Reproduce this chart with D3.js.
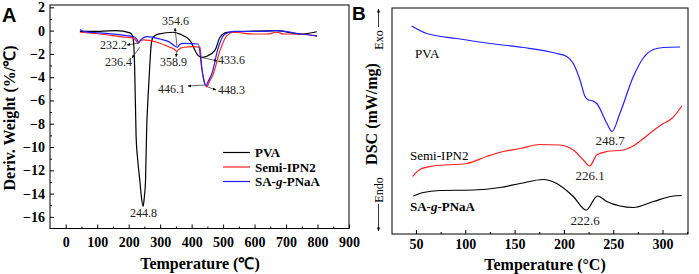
<!DOCTYPE html>
<html>
<head>
<meta charset="utf-8">
<script src="https://cdn.jsdelivr.net/npm/d3@7"></script>
<style>
  body { margin: 0; background: #fff; }
  svg text { font-family: "Liberation Serif", "Times New Roman", serif; }
</style>
</head>
<body>
<div id="chart"></div>
<script>
// ---- Panel A: DTG (derivative weight), temperature in °C ----
const tgaPVA = [
  [45, -0.06], [108, -0.06], [161, 0], [204, -0.2], [212, -0.45], [216, -1.2], [219, -3.2],
  [223.5, -9], [229, -11.2], [235.5, -12.9], [240, -14.2], [245.8, -15.1], [250, -14.2],
  [253.5, -12.9], [257, -8.6], [262, -5.5], [267, -3.0], [272, -1.1], [277.5, -0.57],
  [294, -0.3], [342, -0.14], [363, -0.3], [395, -0.86], [421, -2.15], [433.6, -2.3],
  [448, -2.2], [474, -1.7], [490, -0.57], [512, -0.15], [586, -0.06], [671, 0],
  [745, -0.3], [798, -0.1]
];
const tgaSemi = [
  [45, -0.14], [108, -0.29], [193, -0.57], [214, -0.62], [223, -0.85], [230, -1.09],
  [237, -0.85], [246, -0.8], [289, -1.0], [331, -1.43], [345, -1.6], [352, -1.77],
  [362, -1.55], [374, -1.43], [405, -1.37], [427, -1.43], [432, -3.15], [440, -4.3],
  [448.3, -4.85], [456, -4.4], [469, -3.7], [490, -1.72], [512, -0.43], [533, -0.14],
  [597, -0.29], [640, -0.29], [671, -0.14], [692, -0.29], [745, -0.29], [798, -0.49]
];
const tgaSA = [
  [45, 0.09], [55, -0.06], [108, -0.2], [193, -0.43], [220, -0.57], [227, -0.8],
  [232.2, -1.0], [240, -0.75], [257, -0.52], [299, -0.72], [331, -1.0], [345, -1.3],
  [354.6, -1.43], [362, -1.2], [374, -1.09], [421, -1.15], [432, -3.15], [438, -4.2],
  [446.1, -4.75], [452, -4.4], [464, -3.72], [485, -1.43], [506, -0.29], [533, -0.06],
  [640, -0.06], [671, 0], [745, -0.29], [798, -0.43]
];
const aXTicks = [0, 100, 200, 300, 400, 500, 600, 700, 800, 900];
const aYTicks = [-16, -14, -12, -10, -8, -6, -4, -2, 0, 2];
const aSeries = ["PVA", "Semi-IPN2", "SA-g-PNaA"];
const aColors = ["#000000", "#ff1f1f", "#1f1fff"];

// ---- Panel B: DSC (arbitrary heat-flow units), temperature in °C ----
const dscPVA = [
  [45.6, 4.16], [60.9, 4.01], [91.3, 3.91], [125, 3.81], [158.8, 3.73], [192.7, 3.61],
  [202.8, 3.55], [209.5, 3.41], [216.3, 3.08], [221.4, 2.75], [224.7, 2.68], [228, 2.67],
  [233.3, 2.61], [243.4, 2.22], [248.7, 2.05], [256.9, 2.42], [270.4, 3.15], [280.5, 3.52],
  [290.7, 3.69], [300.8, 3.73], [317.7, 3.74]
];
const dscSemi = [
  [46.6, 1.15], [54, 1.29], [67.5, 1.36], [101.4, 1.41], [121.7, 1.55], [138.5, 1.65],
  [155.5, 1.71], [175.8, 1.79], [196, 1.78], [209.5, 1.68], [219.7, 1.48], [226.1, 1.36],
  [233.3, 1.58], [243.4, 1.65], [260.2, 1.68], [270.4, 1.76], [280, 1.9], [290, 2.06],
  [300, 2.2], [310, 2.32], [319.5, 2.56]
];
const dscSA = [
  [47.3, 0.76], [57.4, 0.83], [74.3, 0.87], [108.1, 0.88], [135.2, 0.93], [155.5, 1.01],
  [179.1, 1.09], [192.7, 1.01], [209.5, 0.75], [222.6, 0.48], [234, 0.76], [243.4, 0.65],
  [256.9, 0.56], [270.4, 0.53], [290.7, 0.65], [311, 0.76], [319.5, 0.77]
];
const bXTicks = [50, 100, 150, 200, 250, 300];

const W = 699, H = 274;
const font = `"Liberation Serif", "Times New Roman", serif`;

const svg = d3.select("#chart").append("svg")
  .attr("width", W).attr("height", H);

// arrowhead marker for peak labels
svg.append("defs").append("marker")
  .attr("id", "arr")
  .attr("viewBox", "0 0 10 10")
  .attr("refX", 9).attr("refY", 5)
  .attr("markerWidth", 5).attr("markerHeight", 5)
  .attr("orient", "auto")
  .append("path").attr("d", "M0,1 L10,5 L0,9 Z").attr("fill", "#000");

// ================= Panel A =================
const xA = d3.scaleLinear().domain([-50, 900]).range([50, 349]);
const yA = d3.scaleLinear().domain([-17, 2.2]).range([228.5, 5]);

const gA = svg.append("g");

gA.append("rect")
  .attr("x", xA.range()[0]).attr("y", yA.range()[1])
  .attr("width", xA.range()[1] - xA.range()[0])
  .attr("height", yA.range()[0] - yA.range()[1])
  .attr("fill", "none").attr("stroke", "#000").attr("stroke-width", 1);

// bottom axis, ticks pointing inside
const axA = gA.append("g")
  .attr("transform", `translate(0,${yA.range()[0]})`)
  .call(d3.axisBottom(xA).tickValues(aXTicks).tickSize(-4).tickPadding(7));
axA.select(".domain").remove();
axA.selectAll("text").attr("font-size", 14).attr("font-weight", "bold")
  .attr("font-family", font).attr("dy", "0.8em");
gA.append("g")
  .attr("transform", `translate(0,${yA.range()[0]})`)
  .call(d3.axisBottom(xA).tickValues(d3.range(50, 900, 100)).tickSize(-2).tickFormat(""))
  .select(".domain").remove();

const ayA = gA.append("g")
  .attr("transform", `translate(${xA.range()[0]},0)`)
  .call(d3.axisLeft(yA).tickValues(aYTicks).tickSize(-4).tickPadding(5));
ayA.select(".domain").remove();
ayA.selectAll("text").attr("font-size", 14).attr("font-weight", "bold").attr("font-family", font);
gA.append("g")
  .attr("transform", `translate(${xA.range()[0]},0)`)
  .call(d3.axisLeft(yA).tickValues(d3.range(-15, 2, 2)).tickSize(-2).tickFormat(""))
  .select(".domain").remove();

const lineA = d3.line().x(d => xA(d[0])).y(d => yA(d[1])).curve(d3.curveMonotoneX);
[tgaPVA, tgaSemi, tgaSA].forEach((s, i) => {
  gA.append("path").datum(s)
    .attr("fill", "none").attr("stroke", aColors[i]).attr("stroke-width", 1.2)
    .attr("d", lineA);
});

// peak labels with arrows (text position, arrow from curve point to label)
const aNotes = [
  { t: "244.8", x: 143.5, y: 217, anchor: "middle" },
  { t: "232.2", x: 100, y: 49, anchor: "start", a: [[139, 43], [127, 45]] },
  { t: "236.4", x: 105, y: 66, anchor: "start", a: [[140, 47], [132, 58]] },
  { t: "354.6", x: 162, y: 25, anchor: "start", a: [[177, 46], [175, 28]] },
  { t: "358.9", x: 160, y: 66, anchor: "start", a: [[177, 51], [176, 57]] },
  { t: "433.6", x: 218, y: 64, anchor: "start", a: [[200, 57], [217, 61]] },
  { t: "446.1", x: 158, y: 93, anchor: "start", a: [[205, 85], [188, 86]] },
  { t: "448.3", x: 218, y: 94, anchor: "start", a: [[208, 87], [216, 90]] }
];
aNotes.forEach(n => {
  gA.append("text").attr("x", n.x).attr("y", n.y).attr("text-anchor", n.anchor)
    .attr("font-size", 12).attr("fill", "#222").text(n.t);
  if (n.a) {
    gA.append("line")
      .attr("x1", n.a[0][0]).attr("y1", n.a[0][1])
      .attr("x2", n.a[1][0]).attr("y2", n.a[1][1])
      .attr("stroke", "#222").attr("stroke-width", 0.7)
      .attr("marker-end", "url(#arr)");
  }
});

// legend
const legA = gA.append("g").attr("transform", "translate(223,152.5)");
aSeries.forEach((name, i) => {
  const y = i * 14.5;
  legA.append("line").attr("x1", 0).attr("x2", 27).attr("y1", y).attr("y2", y)
    .attr("stroke", aColors[i]).attr("stroke-width", 1.2);
  const t = legA.append("text").attr("x", 32).attr("y", y + 4.5)
    .attr("font-size", 13).attr("font-weight", "bold");
  if (name === "SA-g-PNaA") {
    t.append("tspan").text("SA-");
    t.append("tspan").attr("font-style", "italic").text("g");
    t.append("tspan").text("-PNaA");
  } else {
    t.text(name);
  }
});

gA.append("text").attr("x", 200).attr("y", 269).attr("text-anchor", "middle")
  .attr("font-size", 16).attr("font-weight", "bold").text("Temperature (℃)");
gA.append("text").attr("transform", "translate(15,118) rotate(-90)")
  .attr("text-anchor", "middle").attr("font-size", 16).attr("font-weight", "bold")
  .text("Deriv. Weight (%/℃)");
svg.append("text").attr("x", 2).attr("y", 22)
  .style("font-family", "Arial, 'Liberation Sans', sans-serif")
  .attr("font-size", 20).attr("font-weight", "bold").text("A");

// ================= Panel B =================
const xB = d3.scaleLinear().domain([25.7, 325.8]).range([392, 688]);
const yB = d3.scaleLinear().domain([0, 4.52]).range([234, 8]);

const gB = svg.append("g");
gB.append("rect")
  .attr("x", xB.range()[0]).attr("y", yB.range()[1])
  .attr("width", xB.range()[1] - xB.range()[0])
  .attr("height", yB.range()[0] - yB.range()[1])
  .attr("fill", "none").attr("stroke", "#000").attr("stroke-width", 1);

const axB = gB.append("g")
  .attr("transform", `translate(0,${yB.range()[0]})`)
  .call(d3.axisBottom(xB).tickValues(bXTicks).tickSize(-4).tickPadding(5));
axB.select(".domain").remove();
axB.selectAll("text").attr("font-size", 14).attr("font-weight", "bold")
  .attr("font-family", font).attr("dy", "0.72em");
gB.append("g")
  .attr("transform", `translate(0,${yB.range()[0]})`)
  .call(d3.axisBottom(xB).tickValues(d3.range(75, 326, 50)).tickSize(-2).tickFormat(""))
  .select(".domain").remove();

const lineB = d3.line().x(d => xB(d[0])).y(d => yB(d[1])).curve(d3.curveMonotoneX);
[[dscPVA, "#1f1fff"], [dscSemi, "#ff1f1f"], [dscSA, "#000000"]].forEach(([s, c]) => {
  gB.append("path").datum(s)
    .attr("fill", "none").attr("stroke", c).attr("stroke-width", 1.2)
    .attr("d", lineB);
});

gB.append("text").attr("x", 415).attr("y", 58).attr("font-size", 13).text("PVA");
gB.append("text").attr("x", 410).attr("y", 160).attr("font-size", 13).text("Semi-IPN2");
const saB = gB.append("text").attr("x", 410).attr("y", 211)
  .attr("font-size", 13).attr("font-weight", "bold");
saB.append("tspan").text("SA-");
saB.append("tspan").attr("font-style", "italic").text("g");
saB.append("tspan").text("-PNaA");

[["248.7", 610, 145], ["226.1", 590, 180], ["222.6", 585, 225]].forEach(([t, x, y]) => {
  gB.append("text").attr("x", x).attr("y", y).attr("text-anchor", "middle")
    .attr("font-size", 13).attr("fill", "#222").text(t);
});

gB.append("text").attr("x", 545).attr("y", 270).attr("text-anchor", "middle")
  .attr("font-size", 16).attr("font-weight", "bold").text("Temperature (°C)");
gB.append("text").attr("transform", "translate(377,114) rotate(-90)")
  .attr("text-anchor", "middle").attr("font-size", 16).attr("font-weight", "bold")
  .text("DSC (mW/mg)");

// Exo / Endo indicators
gB.append("text").attr("transform", "translate(382.5,40) rotate(-90)")
  .attr("text-anchor", "middle").attr("font-size", 12).text("Exo");
gB.append("line").attr("x1", 378.5).attr("x2", 378.5).attr("y1", 27).attr("y2", 9)
  .attr("stroke", "#000").attr("stroke-width", 0.8).attr("marker-end", "url(#arr)");
gB.append("text").attr("transform", "translate(382.5,190) rotate(-90)")
  .attr("text-anchor", "middle").attr("font-size", 12).text("Endo");
gB.append("line").attr("x1", 378.5).attr("x2", 378.5).attr("y1", 204).attr("y2", 231)
  .attr("stroke", "#000").attr("stroke-width", 0.8).attr("marker-end", "url(#arr)");

svg.append("text").attr("x", 352).attr("y", 20)
  .style("font-family", "Arial, 'Liberation Sans', sans-serif")
  .attr("font-size", 19).attr("font-weight", "bold").text("B");
</script>
</body>
</html>
